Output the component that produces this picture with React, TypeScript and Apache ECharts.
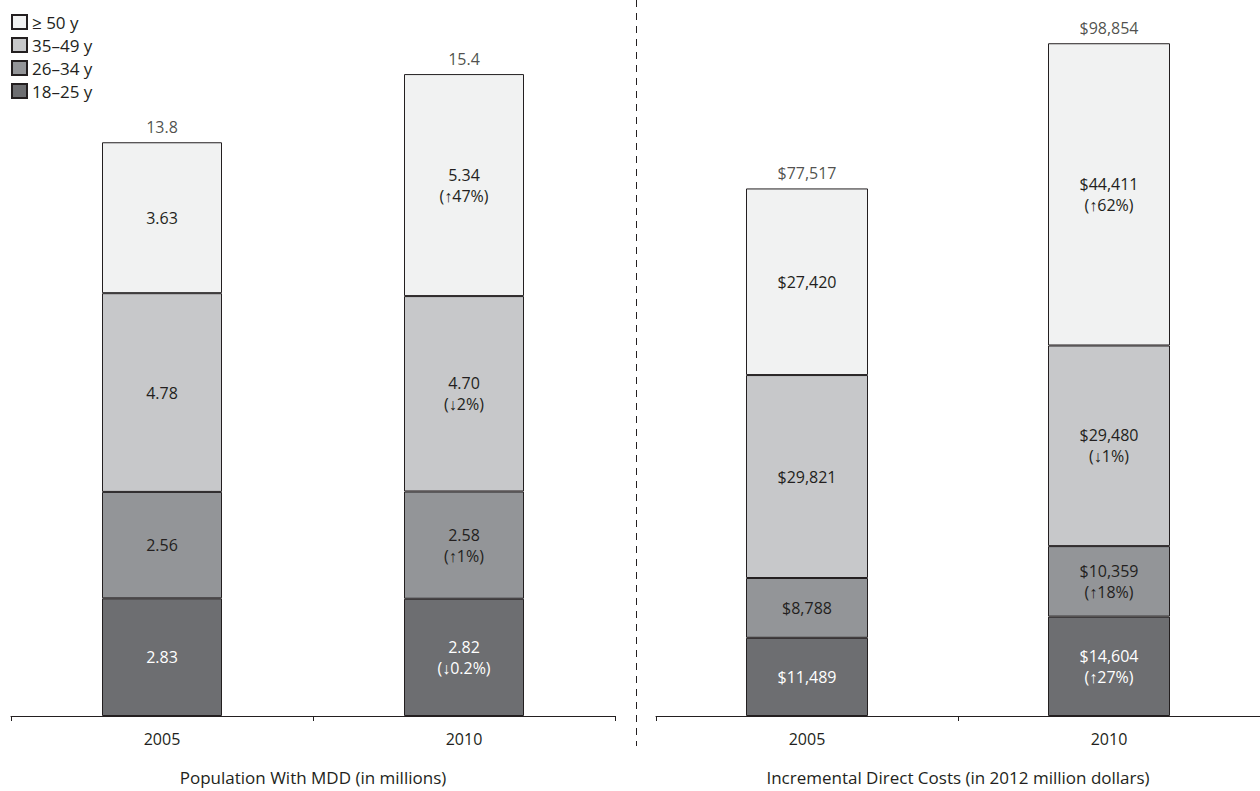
import React, { useEffect, useRef } from "react";
import * as echarts from "echarts";

const years = ["2005", "2010"];
const groupNames = ["18–25 y", "26–34 y", "35–49 y", "≥ 50 y"];
const legendOrder = ["≥ 50 y", "35–49 y", "26–34 y", "18–25 y"];
const colors = ["#6d6e71", "#939598", "#c7c8ca", "#f1f2f2"];
const labelColors = ["#ffffff", "#231f20", "#231f20", "#231f20"];

// Population with MDD (millions), per age group: [2005, 2010]
const popValues = [
  [2.83, 2.82],
  [2.56, 2.58],
  [4.78, 4.7],
  [3.63, 5.34],
];
const popChange = [
  ["", "↓0.2%"],
  ["", "↑1%"],
  ["", "↓2%"],
  ["", "↑47%"],
];
const popTotals = ["13.8", "15.4"];
const popTotalValues = [13.8, 15.44];

// Incremental direct costs (2012 million dollars)
const costValues = [
  [11489, 14604],
  [8788, 10359],
  [29821, 29480],
  [27420, 44411],
];
const costChange = [
  ["", "↑27%"],
  ["", "↑18%"],
  ["", "↓1%"],
  ["", "↑62%"],
];
const costTotals = ["$77,517", "$98,854"];
const costTotalValues = [77517, 98854];

const FONT = "Open Sans";
const TEXT = "#231f20";
const FS = 16;

export default function App() {
  const ref = useRef<HTMLDivElement>(null);
  useEffect(() => {
    if (!ref.current) return;
    const chart = echarts.init(ref.current, null, { renderer: "svg" });
    const series: any[] = [];
    const makeBars = (
      gi: number,
      values: number[][],
      changes: string[][],
      fmt: (v: number) => string,
      width: number
    ) => {
      values.forEach((vals, i) => {
        series.push({
          type: "bar",
          name: groupNames[i],
          xAxisIndex: gi,
          yAxisIndex: gi,
          stack: "s" + gi,
          barWidth: width,
          data: vals,
          itemStyle: { color: colors[i], borderColor: TEXT, borderWidth: 1 },
          label: {
            show: true,
            position: "inside",
            color: labelColors[i],
            fontFamily: FONT,
            fontSize: FS,
            lineHeight: 21,
            formatter: (p: any) => {
              const c = changes[i][p.dataIndex];
              return fmt(p.value) + (c ? "\n(" + c + ")" : "");
            },
          },
          emphasis: { disabled: true },
        });
      });
    };
    makeBars(0, popValues, popChange, (v) => v.toFixed(2), 120);
    makeBars(1, costValues, costChange, (v) => "$" + v.toLocaleString("en-US"), 122);
    const totals = (gi: number, vals: number[], labels: string[]) => {
      series.push({
        type: "scatter",
        xAxisIndex: gi,
        yAxisIndex: gi,
        symbolSize: 1,
        itemStyle: { color: "rgba(0,0,0,0)" },
        data: vals,
        label: {
          show: true,
          position: "top",
          distance: 7,
          color: TEXT,
          fontFamily: FONT,
          fontSize: FS,
          formatter: (p: any) => labels[p.dataIndex],
        },
        silent: true,
      });
    };
    totals(0, popTotalValues, popTotals);
    totals(1, costTotalValues, costTotals);

    const xAxis = (gi: number, name: string) => ({
      type: "category",
      gridIndex: gi,
      data: years,
      name,
      nameLocation: "middle",
      nameGap: 53,
      nameTextStyle: { color: TEXT, fontFamily: FONT, fontSize: 17 },
      axisLine: { lineStyle: { color: TEXT, width: 1 } },
      axisTick: { show: true, length: 5, lineStyle: { color: TEXT } },
      axisLabel: { color: TEXT, fontFamily: FONT, fontSize: FS, margin: 15 },
    });

    chart.setOption({
      animation: false,
      textStyle: { fontFamily: FONT },
      legend: {
        data: legendOrder,
        orient: "vertical",
        left: 11,
        top: 11,
        padding: 0,
        itemWidth: 15,
        itemHeight: 14,
        itemGap: 1,
        icon: "rect",
        textStyle: { color: TEXT, fontFamily: FONT, fontSize: 17, lineHeight: 22 },
        selectedMode: false,
      },
      grid: [
        { left: 11, width: 604, top: 30, height: 689 },
        { left: 656, right: -8, top: 30, height: 689 },
      ],
      xAxis: [
        xAxis(0, "Population With MDD (in millions)"),
        xAxis(1, "Incremental Direct Costs (in 2012 million dollars)"),
      ],
      yAxis: [
        { type: "value", gridIndex: 0, min: 0, max: 16.5, show: false },
        { type: "value", gridIndex: 1, min: 0, max: 100800, show: false },
      ],
      graphic: [
        {
          type: "line",
          shape: { x1: 636.5, y1: 0, x2: 636.5, y2: 746 },
          style: { stroke: TEXT, lineWidth: 1, lineDash: [7, 6] },
          silent: true,
        },
      ],
      series,
    });
    return () => chart.dispose();
  }, []);
  return (
    <div
      ref={ref}
      style={{ position: "fixed", left: 0, top: 0, width: 1260, height: 791, background: "#fff" }}
    />
  );
}
